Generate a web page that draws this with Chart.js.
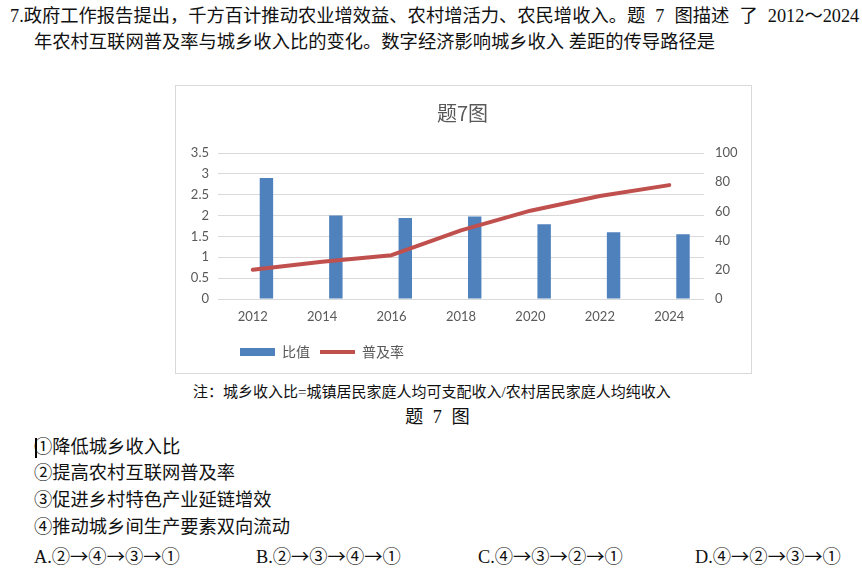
<!DOCTYPE html>
<html>
<head>
<meta charset="utf-8">
<script src="https://cdn.jsdelivr.net/npm/chart.js@4"></script>
<style>
  html, body { margin: 0; padding: 0; background: #fff; }
  body { width: 862px; height: 572px; position: relative; overflow: hidden;
         font-family: "Liberation Serif", "Noto Sans CJK SC", serif; color: #111; }
  .t { position: absolute; white-space: nowrap; font-size: 18.3px; line-height: 26px; }
  .note { font-size: 15px; }
  .ar { font-family: "Noto Sans CJK SC", sans-serif; }
  #box { position: absolute; left: 175px; top: 85px; width: 575px; height: 287px;
         border: 1px solid #d9d9d9; background: #fff; }
  #caret { position: absolute; left: 35px; top: 438px; width: 2px; height: 20px; background: #000; }
</style>
</head>
<body>
<div class="t" style="left:10px; top:3px; word-spacing:5.5px;">7.政府工作报告提出，千方百计推动农业增效益、农村增活力、农民增收入。题 7 图描述 了 2012～2024</div>
<div class="t" style="left:34px; top:29px;">年农村互联网普及率与城乡收入比的变化。数字经济影响城乡收入 差距的传导路径是</div>

<div id="box"><canvas id="incomeChart"></canvas></div>

<div class="t note" style="left:193px; top:379px;">注：城乡收入比=城镇居民家庭人均可支配收入/农村居民家庭人均纯收入</div>
<div class="t" style="left:405px; top:404px; word-spacing:5px;">题 7 图</div>

<div id="caret"></div>
<div class="t" style="left:34px; top:434px;">①降低城乡收入比</div>
<div class="t" style="left:34px; top:460px;">②提高农村互联网普及率</div>
<div class="t" style="left:34px; top:487px;">③促进乡村特色产业延链增效</div>
<div class="t" style="left:34px; top:514px;">④推动城乡间生产要素双向流动</div>
<div class="t" style="left:34px; top:542px;">A.②<span class="ar">→</span>④<span class="ar">→</span>③<span class="ar">→</span>①</div>
<div class="t" style="left:256px; top:542px;">B.②<span class="ar">→</span>③<span class="ar">→</span>④<span class="ar">→</span>①</div>
<div class="t" style="left:478px; top:542px;">C.④<span class="ar">→</span>③<span class="ar">→</span>②<span class="ar">→</span>①</div>
<div class="t" style="left:695px; top:542px;">D.④<span class="ar">→</span>②<span class="ar">→</span>③<span class="ar">→</span>①</div>

<script>
const years = ['2012', '2014', '2016', '2018', '2020', '2022', '2024'];
const ratioValues = [2.9, 2.0, 1.94, 1.98, 1.79, 1.6, 1.55];   // 比值 (left axis)
const rateValues = [20, 25.5, 30, 47, 60.5, 70.5, 78];         // 普及率 (right axis)
const ratioTicks = [0, 0.5, 1, 1.5, 2, 2.5, 3, 3.5];
const rateTicks = [0, 20, 40, 60, 80, 100];

Chart.defaults.font.family = "Lato, 'Noto Sans CJK SC', sans-serif";
Chart.defaults.color = '#595959';

// Excel put the legend off to the left, nudge it over
const legendNudge = {
  id: 'legendNudge',
  afterLayout(chart) {
    chart.legend.left += 44;
    chart.legend.right += 44;
  }
};

const ctx = document.getElementById('incomeChart');

new Chart(ctx, {
  data: {
    labels: years,
    datasets: [
      {
        // empty spacer so the columns sit right of the category centre like in Excel
        type: 'bar',
        label: '',
        data: years.map(() => null),
        backgroundColor: 'rgba(0,0,0,0)',
        yAxisID: 'y',
        order: 1
      },
      {
        type: 'bar',
        label: '比值',
        data: ratioValues,
        backgroundColor: '#4F81BD',
        yAxisID: 'y',
        order: 1
      },
      {
        type: 'line',
        label: '普及率',
        data: rateValues,
        borderColor: '#C0504D',
        backgroundColor: '#C0504D',
        borderWidth: 4,
        pointRadius: 0,
        tension: 0,
        borderCapStyle: 'round',
        borderJoinStyle: 'round',
        yAxisID: 'y1',
        order: 0
      }
    ]
  },
  options: {
    responsive: true,
    maintainAspectRatio: false,
    animation: false,
    datasets: { bar: { categoryPercentage: 0.79, barPercentage: 0.49 } },
    layout: { padding: { left: 10, right: 12, top: 0, bottom: 4 } },
    plugins: {
      title: {
        display: true,
        text: '题7图',
        color: '#595959',
        font: { size: 20, weight: 'normal', family: "'Noto Sans CJK SC', Lato, sans-serif" },
        padding: { top: 15, bottom: 28 }
      },
      legend: {
        position: 'bottom',
        align: 'start',
        labels: {
          usePointStyle: true,
          pointStyleWidth: 35,
          boxWidth: 35,
          boxHeight: 8,
          padding: 10,
          color: '#595959',
          font: { size: 14, family: "'Noto Sans CJK SC', sans-serif" },
          generateLabels: (chart) => chart.data.datasets.map((ds, i) => ({
            text: ds.label,
            fillStyle: ds.type === 'line' ? 'rgba(0,0,0,0)' : ds.backgroundColor,
            strokeStyle: ds.type === 'line' ? ds.borderColor : ds.backgroundColor,
            lineWidth: ds.type === 'line' ? 4 : 0,
            pointStyle: ds.type === 'line' ? 'line' : 'rect',
            fontColor: '#595959',
            hidden: false,
            datasetIndex: i
          })).filter(item => item.text)
        }
      },
      tooltip: { enabled: false }
    },
    scales: {
      x: {
        type: 'category',
        offset: true,
        grid: { display: false },
        border: { display: false },
        ticks: { padding: 2, font: { size: 13 }, maxRotation: 0 },
        afterFit: (s) => { s.height = 36; }
      },
      y: {
        position: 'left',
        min: 0,
        max: 3.5,
        grid: { color: '#d9d9d9', lineWidth: 1, drawTicks: false },
        border: { display: false },
        ticks: { padding: 9, font: { size: 13 }, callback: (v) => String(v) },
        afterBuildTicks: (s) => { s.ticks = ratioTicks.map(v => ({ value: v })); },
        afterFit: (s) => { s.width = 32; }
      },
      y1: {
        position: 'right',
        min: 0,
        max: 100,
        grid: { display: false, drawTicks: false },
        border: { display: false },
        ticks: { padding: 11, font: { size: 13 }, callback: (v) => String(v) },
        afterBuildTicks: (s) => { s.ticks = rateTicks.map(v => ({ value: v })); },
        afterFit: (s) => { s.width = 35; }
      }
    }
  },
  plugins: [legendNudge]
});
</script>
</body>
</html>
